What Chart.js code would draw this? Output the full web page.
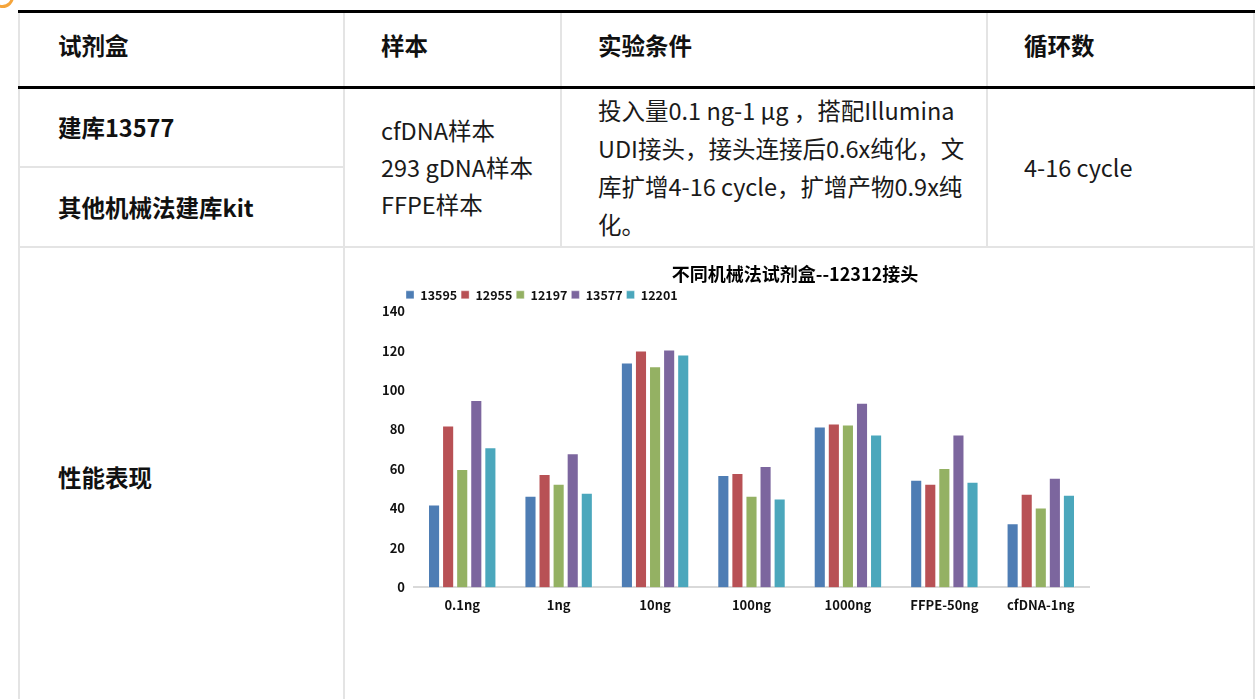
<!DOCTYPE html>
<html>
<head>
<meta charset="utf-8">
<script src="https://cdn.jsdelivr.net/npm/chart.js@4.4.0/dist/chart.umd.min.js"></script>
<style>
  html, body { margin: 0; padding: 0; background: #fff; }
  body { width: 1259px; height: 699px; overflow: hidden; position: relative;
         font-family: "Noto Sans CJK SC", "Noto Sans", sans-serif; color: #1a1a1a; }
  .badge { position: absolute; left: -9px; top: -15px; width: 17px; height: 17px;
           border: 3px solid #f5a53c; border-radius: 50%; }
  table.spec { position: absolute; left: 18px; top: 10px; border-collapse: collapse;
               table-layout: fixed; width: 1235px; }
  table.spec th, table.spec td { border: 2px solid #e4e4e4; padding: 0 0 0 36px;
               text-align: left; vertical-align: middle; font-size: 23.5px; }
  table.spec thead tr { height: 76px; }
  table.spec thead th { border-top: 3px solid #000; border-bottom: 3px solid #000;
               font-weight: bold; color: #111; padding-bottom: 9px; }
  table.spec th:first-child, table.spec td.h { padding-left: 38px; }
  table.spec td.h { font-weight: bold; color: #111; }
  tr.r2 { height: 79px; }
  tr.r3 { height: 80px; }
  tr.r4 { height: 460px; }
  td.samples { line-height: 37px; }
  td.cond { line-height: 38px; white-space: nowrap; }
  #chartBox { position: absolute; left: 370px; top: 258px; width: 818px; height: 365px; }
</style>
</head>
<body>
<div class="badge"></div>
<table class="spec">
  <colgroup>
    <col style="width:325px"><col style="width:217px"><col style="width:426px"><col style="width:267px">
  </colgroup>
  <thead>
    <tr><th>试剂盒</th><th>样本</th><th>实验条件</th><th>循环数</th></tr>
  </thead>
  <tbody>
    <tr class="r2">
      <td class="h">建库13577</td>
      <td rowspan="2" class="samples">cfDNA样本<br>293 gDNA样本<br>FFPE样本</td>
      <td rowspan="2" class="cond">投入量0.1 ng-1 μg ，搭配Illumina<br>UDI接头，接头连接后0.6x纯化，文<br>库扩增4-16 cycle，扩增产物0.9x纯<br>化。</td>
      <td rowspan="2">4-16 cycle</td>
    </tr>
    <tr class="r3"><td class="h">其他机械法建库kit</td></tr>
    <tr class="r4"><td class="h">性能表现</td><td colspan="3"></td></tr>
  </tbody>
</table>
<div id="chartBox"><canvas id="perfChart" width="818" height="365"></canvas></div>

<script>
var categories = ["0.1ng", "1ng", "10ng", "100ng", "1000ng", "FFPE-50ng", "cfDNA-1ng"];
var kitNames = ["13595", "12955", "12197", "13577", "12201"];
var kit13595 = [42, 46.5, 114, 57, 81.5, 54.5, 32.5];
var kit12955 = [82, 57.5, 120, 58, 83, 52.5, 47.5];
var kit12197 = [60, 52.5, 112, 46.5, 82.5, 60.5, 40.5];
var kit13577 = [95, 68, 120.5, 61.5, 93.5, 77.5, 55.5];
var kit12201 = [71, 48, 118, 45, 77.5, 53.5, 47];
var kitColors = ["#4e7db4", "#b85155", "#94b163", "#7c669e", "#4ba7bc"];
var yTicks = [0, 20, 40, 60, 80, 100, 120, 140];

var seriesValues = [kit13595, kit12955, kit12197, kit13577, kit12201];

Chart.defaults.font.family = '"Noto Sans CJK SC", "Noto Sans", sans-serif';
Chart.defaults.color = "#111";

var datasets = [];
for (var i = 0; i < kitNames.length; i++) {
    datasets.push({
        label: kitNames[i],
        data: seriesValues[i],
        backgroundColor: kitColors[i],
        borderColor: "rgba(255,255,255,0.35)",
        borderWidth: 1,
        categoryPercentage: 0.73,
        barPercentage: 0.86
    });
}

var ctx = document.getElementById("perfChart").getContext("2d");
var perfChart = new Chart(ctx, {
    type: 'bar',
    data: { labels: categories, datasets: datasets },
    options: {
        responsive: false,
        animation: false,
        layout: { padding: { left: 32, right: 0, top: 0, bottom: 0 } },
        plugins: {
            title: {
                display: true,
                text: "不同机械法试剂盒--12312接头",
                color: "#000",
                font: { size: 18, weight: 'bold' },
                padding: { top: 5, bottom: 0 }
            },
            legend: {
                position: 'top',
                align: 'start',
                labels: {
                    boxWidth: 8,
                    boxHeight: 8,
                    padding: 4,
                    color: "#111",
                    font: { size: 12.5, weight: 'bold' }
                }
            },
            tooltip: { enabled: false }
        },
        scales: {
            x: {
                grid: { display: false, drawTicks: false },
                border: { display: true, color: "#d9d9d9", width: 2 },
                ticks: { padding: 10, font: { size: 13, weight: 'bold' } }
            },
            y: {
                min: 0,
                max: 140,
                afterBuildTicks: function (scale) {
                    scale.ticks = yTicks.map(function (v) { return { value: v }; });
                },
                // narrow axis; labels hang out to the left, right-aligned 9px off the plot
                afterFit: function (scale) { scale.width = 12; },
                grid: { display: false, drawTicks: false },
                border: { display: false },
                ticks: {
                    mirror: true,
                    crossAlign: 'far',
                    padding: -32,
                    font: { size: 13, weight: 'bold' }
                }
            },
            // empty axis on the right, only reserves room so the title sits centred over the whole figure
            side: {
                type: 'linear',
                position: 'right',
                grid: { display: false, drawTicks: false },
                border: { display: false },
                ticks: { display: false },
                afterFit: function (scale) { scale.width = 99; }
            }
        }
    }
});
</script>
</body>
</html>
